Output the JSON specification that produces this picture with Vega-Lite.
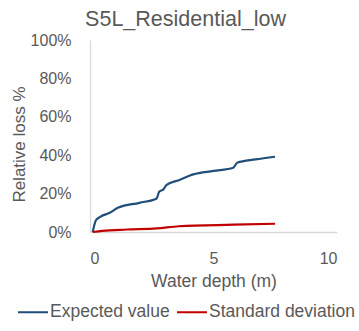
{
  "$schema": "https://vega.github.io/schema/vega-lite/v6.json",
  "width": 247,
  "height": 192,
  "autosize": {"type": "none"},
  "padding": {"left": 90, "top": 40, "right": 22, "bottom": 99},
  "background": "white",
  "title": {
    "text": "S5L_Residential_low",
    "font": "Liberation Sans",
    "fontSize": 21.5,
    "fontWeight": "normal",
    "color": "#595959",
    "anchor": "middle",
    "dx": -28,
    "offset": 2
  },
  "data": {
    "values": [
      {"depth": 0.11, "loss": 0.0, "series": "Expected value"},
      {"depth": 0.24, "loss": 0.061, "series": "Expected value"},
      {"depth": 0.4, "loss": 0.078, "series": "Expected value"},
      {"depth": 0.8, "loss": 0.10, "series": "Expected value"},
      {"depth": 1.15, "loss": 0.127, "series": "Expected value"},
      {"depth": 2.0, "loss": 0.152, "series": "Expected value"},
      {"depth": 2.7, "loss": 0.175, "series": "Expected value"},
      {"depth": 2.8, "loss": 0.21, "series": "Expected value"},
      {"depth": 2.97, "loss": 0.222, "series": "Expected value"},
      {"depth": 3.1, "loss": 0.245, "series": "Expected value"},
      {"depth": 3.6, "loss": 0.27, "series": "Expected value"},
      {"depth": 4.18, "loss": 0.30, "series": "Expected value"},
      {"depth": 5.0, "loss": 0.318, "series": "Expected value"},
      {"depth": 5.8, "loss": 0.335, "series": "Expected value"},
      {"depth": 5.96, "loss": 0.361, "series": "Expected value"},
      {"depth": 6.7, "loss": 0.378, "series": "Expected value"},
      {"depth": 7.49, "loss": 0.392, "series": "Expected value"},
      {"depth": 0.11, "loss": 0.0, "series": "Standard deviation"},
      {"depth": 0.5, "loss": 0.006, "series": "Standard deviation"},
      {"depth": 1.5, "loss": 0.013, "series": "Standard deviation"},
      {"depth": 2.7, "loss": 0.019, "series": "Standard deviation"},
      {"depth": 3.6, "loss": 0.03, "series": "Standard deviation"},
      {"depth": 5.8, "loss": 0.038, "series": "Standard deviation"},
      {"depth": 7.49, "loss": 0.043, "series": "Standard deviation"}
    ]
  },
  "mark": {"type": "line", "strokeWidth": 2.2, "interpolate": "monotone"},
  "encoding": {
    "x": {
      "field": "depth",
      "type": "quantitative",
      "scale": {"domain": [0, 10], "nice": false},
      "axis": {
        "values": [0, 5, 10],
        "title": "Water depth (m)",
        "grid": false,
        "ticks": false,
        "domainColor": "#D9D9D9",
        "domainWidth": 1.3,
        "labelFont": "Liberation Sans",
        "labelFontSize": 16,
        "labelColor": "#595959",
        "labelPadding": 18,
        "titleFont": "Liberation Sans",
        "titleFontSize": 17.5,
        "titleFontWeight": "normal",
        "titleColor": "#595959",
        "titlePadding": 6
      }
    },
    "y": {
      "field": "loss",
      "type": "quantitative",
      "scale": {"domain": [0, 1], "nice": false},
      "axis": {
        "values": [0, 0.2, 0.4, 0.6, 0.8, 1.0],
        "format": ".0%",
        "title": "Relative loss %",
        "grid": false,
        "ticks": false,
        "domainColor": "#D9D9D9",
        "domainWidth": 1.3,
        "labelFont": "Liberation Sans",
        "labelFontSize": 16,
        "labelColor": "#595959",
        "labelPadding": 19,
        "titleFont": "Liberation Sans",
        "titleFontSize": 17,
        "titleFontWeight": "normal",
        "titleColor": "#595959",
        "titlePadding": 2,
        "titleY": 104
      }
    },
    "color": {
      "field": "series",
      "type": "nominal",
      "scale": {"domain": ["Expected value", "Standard deviation"], "range": ["#1F4E79", "#C00000"]},
      "legend": {
        "title": null,
        "orient": "none",
        "direction": "horizontal",
        "legendX": -73,
        "legendY": 256,
        "symbolType": "stroke",
        "symbolSize": 900,
        "symbolStrokeWidth": 2,
        "labelFont": "Liberation Sans",
        "labelFontSize": 17.5,
        "labelColor": "#595959",
        "labelOffset": 1,
        "columnPadding": 3
      }
    }
  },
  "config": {"view": {"stroke": null}}
}
